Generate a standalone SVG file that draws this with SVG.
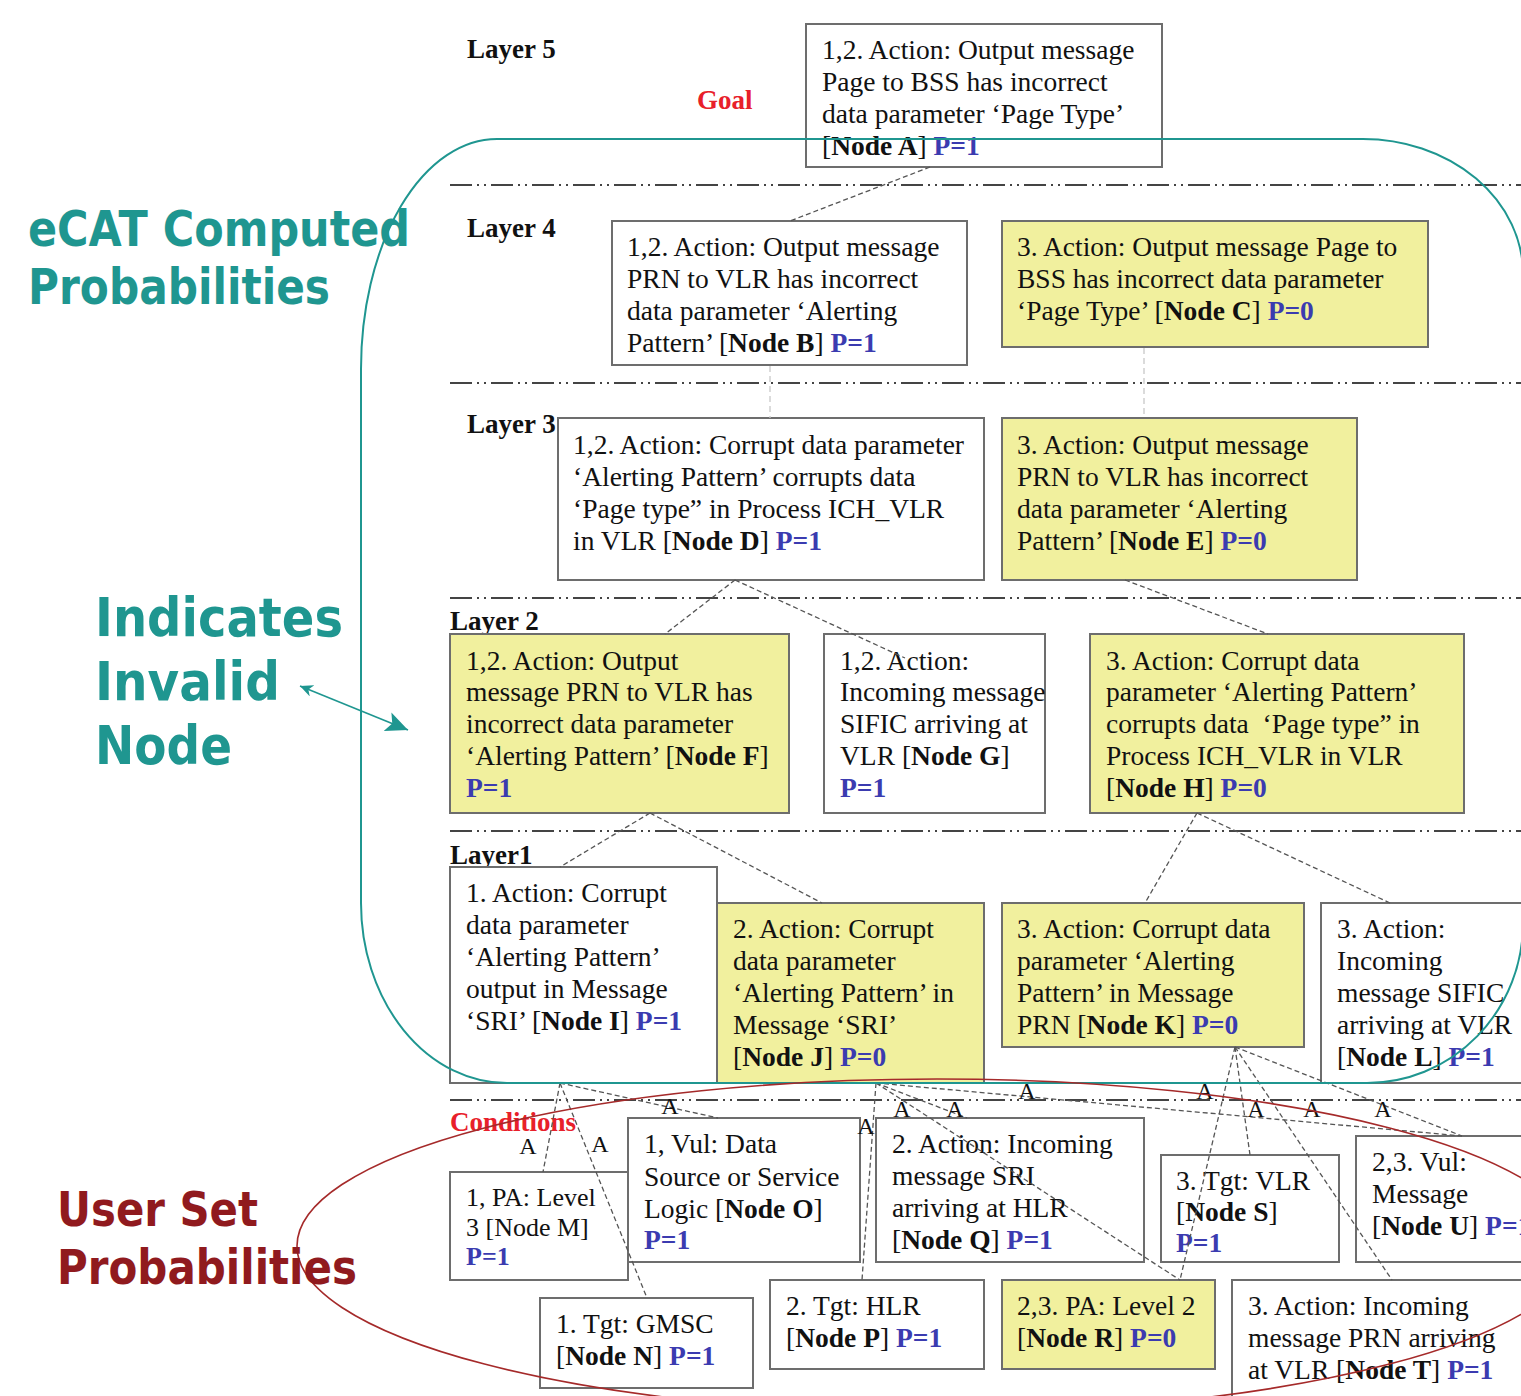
<svg xmlns="http://www.w3.org/2000/svg" width="1521" height="1396" viewBox="0 0 1521 1396">
<style>
.n{fill:#ffffff;stroke:#6d6d6d;stroke-width:2}
.y{fill:#f1f09e;stroke:#6d6d6d;stroke-width:2}
.t{font-family:"Liberation Serif","Times New Roman",serif;font-size:27.5px;fill:#111}
.b{font-weight:bold}
.p{font-weight:bold;fill:#3b3bb0}
.lay{font-family:"Liberation Serif","Times New Roman",serif;font-size:27px;font-weight:bold;fill:#111}
.red{font-family:"Liberation Serif","Times New Roman",serif;font-size:27px;font-weight:bold;fill:#e8202a}
.al{font-family:"Liberation Serif","Times New Roman",serif;font-size:24px;fill:#111;text-anchor:middle}
.conn{stroke:#555;stroke-width:1.3;stroke-dasharray:5 3;fill:none}
.light{stroke:#c8c8c8;stroke-width:1.3;stroke-dasharray:6 4;fill:none}
.sep{stroke:#444;stroke-width:2;stroke-dasharray:22 5 2 5 2 5;fill:none}
.big{font-family:"DejaVu Sans",Verdana,sans-serif;font-weight:bold}
</style>
<defs>
<marker id="tEnd" markerUnits="userSpaceOnUse" markerWidth="24" markerHeight="20" refX="22" refY="10" orient="auto"><path d="M0,0 L22,10 L0,20 L5,10 z" fill="#1f9690"/></marker>
<marker id="tStart" markerUnits="userSpaceOnUse" markerWidth="14" markerHeight="12" refX="13" refY="6" orient="auto-start-reverse"><path d="M0,0 L13,6 L0,12 L4,6 z" fill="#1f9690"/></marker>
</defs>

<g id="separators">
<line class="sep" x1="450" y1="185" x2="1521" y2="185"/>
<line class="sep" x1="450" y1="383" x2="1521" y2="383"/>
<line class="sep" x1="450" y1="598" x2="1521" y2="598"/>
<line class="sep" x1="450" y1="831" x2="1521" y2="831"/>
<line class="sep" x1="450" y1="1100" x2="1521" y2="1100"/>
</g>

<g id="labels">
<text class="lay" x="467" y="58">Layer 5</text>
<text class="red" x="697" y="109">Goal</text>
<text class="lay" x="467" y="237">Layer 4</text>
<text class="lay" x="467" y="433">Layer 3</text>
<text class="lay" x="450" y="630">Layer 2</text>
<text class="lay" x="450" y="864">Layer1</text>
<text class="red" x="450" y="1131">Conditions</text>
</g>

<g id="nodeA"><rect class="n" x="806" y="24" width="356" height="143"/>
<text class="t" x="822" y="59">1,2. Action: Output message</text>
<text class="t" x="822" y="91">Page to BSS has incorrect</text>
<text class="t" x="822" y="123">data parameter ‘Page Type’</text>
<text class="t" x="822" y="155">[<tspan class="b">Node A</tspan>] <tspan class="p">P=1</tspan></text></g>

<g id="nodeB"><rect class="n" x="612" y="221" width="355" height="144"/>
<text class="t" x="627" y="256">1,2. Action: Output message</text>
<text class="t" x="627" y="288">PRN to VLR has incorrect</text>
<text class="t" x="627" y="320">data parameter ‘Alerting</text>
<text class="t" x="627" y="352">Pattern’ [<tspan class="b">Node B</tspan>] <tspan class="p">P=1</tspan></text></g>

<g id="nodeC"><rect class="y" x="1002" y="221" width="426" height="126"/>
<text class="t" x="1017" y="256">3. Action: Output message Page to</text>
<text class="t" x="1017" y="288">BSS has incorrect data parameter</text>
<text class="t" x="1017" y="320">‘Page Type’ [<tspan class="b">Node C</tspan>] <tspan class="p">P=0</tspan></text></g>

<g id="nodeD"><rect class="n" x="558" y="418" width="426" height="162"/>
<text class="t" x="573" y="454">1,2. Action: Corrupt data parameter</text>
<text class="t" x="573" y="486">‘Alerting Pattern’ corrupts data</text>
<text class="t" x="573" y="518">‘Page type” in Process ICH_VLR</text>
<text class="t" x="573" y="550">in VLR [<tspan class="b">Node D</tspan>] <tspan class="p">P=1</tspan></text></g>

<g id="nodeE"><rect class="y" x="1002" y="418" width="355" height="162"/>
<text class="t" x="1017" y="454">3. Action: Output message</text>
<text class="t" x="1017" y="486">PRN to VLR has incorrect</text>
<text class="t" x="1017" y="518">data parameter ‘Alerting</text>
<text class="t" x="1017" y="550">Pattern’ [<tspan class="b">Node E</tspan>] <tspan class="p">P=0</tspan></text></g>

<g id="nodeF"><rect class="y" x="450" y="634" width="339" height="179"/>
<text class="t" x="466" y="670">1,2. Action: Output</text>
<text class="t" x="466" y="701">message PRN to VLR has</text>
<text class="t" x="466" y="733">incorrect data parameter</text>
<text class="t" x="466" y="765">‘Alerting Pattern’ [<tspan class="b">Node F</tspan>]</text>
<text class="t" x="466" y="797"><tspan class="p">P=1</tspan></text></g>

<g id="nodeG"><rect class="n" x="824" y="634" width="221" height="179"/>
<text class="t" x="840" y="670">1,2. Action:</text>
<text class="t" x="840" y="701">Incoming message</text>
<text class="t" x="840" y="733">SIFIC arriving at</text>
<text class="t" x="840" y="765">VLR [<tspan class="b">Node G</tspan>]</text>
<text class="t" x="840" y="797"><tspan class="p">P=1</tspan></text></g>

<g id="nodeH"><rect class="y" x="1090" y="634" width="374" height="179"/>
<text class="t" x="1106" y="670">3. Action: Corrupt data</text>
<text class="t" x="1106" y="701">parameter ‘Alerting Pattern’</text>
<text class="t" x="1106" y="733" xml:space="preserve">corrupts data  ‘Page type” in</text>
<text class="t" x="1106" y="765">Process ICH_VLR in VLR</text>
<text class="t" x="1106" y="797">[<tspan class="b">Node H</tspan>] <tspan class="p">P=0</tspan></text></g>

<g id="nodeI"><rect class="n" x="450" y="867" width="267" height="216"/>
<text class="t" x="466" y="902">1. Action: Corrupt</text>
<text class="t" x="466" y="934">data parameter</text>
<text class="t" x="466" y="966">‘Alerting Pattern’</text>
<text class="t" x="466" y="998">output in Message</text>
<text class="t" x="466" y="1030">‘SRI’ [<tspan class="b">Node I</tspan>] <tspan class="p">P=1</tspan></text></g>

<g id="nodeJ"><rect class="y" x="717" y="903" width="267" height="180"/>
<text class="t" x="733" y="938">2. Action: Corrupt</text>
<text class="t" x="733" y="970">data parameter</text>
<text class="t" x="733" y="1002">‘Alerting Pattern’ in</text>
<text class="t" x="733" y="1034">Message ‘SRI’</text>
<text class="t" x="733" y="1066">[<tspan class="b">Node J</tspan>] <tspan class="p">P=0</tspan></text></g>

<g id="nodeK"><rect class="y" x="1002" y="903" width="302" height="144"/>
<text class="t" x="1017" y="938">3. Action: Corrupt data</text>
<text class="t" x="1017" y="970">parameter ‘Alerting</text>
<text class="t" x="1017" y="1002">Pattern’ in Message</text>
<text class="t" x="1017" y="1034">PRN [<tspan class="b">Node K</tspan>] <tspan class="p">P=0</tspan></text></g>

<g id="nodeL"><rect class="n" x="1321" y="903" width="220" height="180"/>
<text class="t" x="1337" y="938">3. Action:</text>
<text class="t" x="1337" y="970">Incoming</text>
<text class="t" x="1337" y="1002">message SIFIC</text>
<text class="t" x="1337" y="1034">arriving at VLR</text>
<text class="t" x="1337" y="1066">[<tspan class="b">Node L</tspan>] <tspan class="p">P=1</tspan></text></g>

<g id="nodeM"><rect class="n" x="450" y="1172" width="178" height="108"/>
<text class="t" x="466" y="1206" style="font-size:26px">1, PA: Level</text>
<text class="t" x="466" y="1236" style="font-size:26px">3 [Node M]</text>
<text class="t" x="466" y="1265" style="font-size:26px"><tspan class="p">P=1</tspan></text></g>

<g id="nodeO"><rect class="n" x="628" y="1118" width="232" height="144"/>
<text class="t" x="644" y="1153">1, Vul: Data</text>
<text class="t" x="644" y="1186">Source or Service</text>
<text class="t" x="644" y="1218">Logic [<tspan class="b">Node O</tspan>]</text>
<text class="t" x="644" y="1249"><tspan class="p">P=1</tspan></text></g>

<g id="nodeQ"><rect class="n" x="876" y="1118" width="268" height="144"/>
<text class="t" x="892" y="1153">2. Action: Incoming</text>
<text class="t" x="892" y="1185">message SRI</text>
<text class="t" x="892" y="1217">arriving at HLR</text>
<text class="t" x="892" y="1249">[<tspan class="b">Node Q</tspan>] <tspan class="p">P=1</tspan></text></g>

<g id="nodeS"><rect class="n" x="1161" y="1155" width="178" height="107"/>
<text class="t" x="1176" y="1190">3. Tgt: VLR</text>
<text class="t" x="1176" y="1221">[<tspan class="b">Node S</tspan>]</text>
<text class="t" x="1176" y="1252"><tspan class="p">P=1</tspan></text></g>

<g id="nodeU"><rect class="n" x="1356" y="1136" width="185" height="126"/>
<text class="t" x="1372" y="1171">2,3. Vul:</text>
<text class="t" x="1372" y="1203">Message</text>
<text class="t" x="1372" y="1235">[<tspan class="b">Node U</tspan>] <tspan class="p">P=1</tspan></text></g>

<g id="nodeN"><rect class="n" x="540" y="1298" width="213" height="90"/>
<text class="t" x="556" y="1333">1. Tgt: GMSC</text>
<text class="t" x="556" y="1365">[<tspan class="b">Node N</tspan>] <tspan class="p">P=1</tspan></text></g>

<g id="nodeP"><rect class="n" x="770" y="1280" width="214" height="89"/>
<text class="t" x="786" y="1315">2. Tgt: HLR</text>
<text class="t" x="786" y="1347">[<tspan class="b">Node P</tspan>] <tspan class="p">P=1</tspan></text></g>

<g id="nodeR"><rect class="y" x="1002" y="1280" width="213" height="89"/>
<text class="t" x="1017" y="1315">2,3. PA: Level 2</text>
<text class="t" x="1017" y="1347">[<tspan class="b">Node R</tspan>] <tspan class="p">P=0</tspan></text></g>

<g id="nodeT"><rect class="n" x="1232" y="1280" width="310" height="130"/>
<text class="t" x="1248" y="1315">3. Action: Incoming</text>
<text class="t" x="1248" y="1347">message PRN arriving</text>
<text class="t" x="1248" y="1379">at VLR [<tspan class="b">Node T</tspan>] <tspan class="p">P=1</tspan></text></g>

<g id="connectors">
<line class="conn" x1="930" y1="167" x2="790" y2="221"/>
<line class="light" x1="770" y1="366" x2="770" y2="418"/>
<line class="light" x1="1144" y1="348" x2="1144" y2="418"/>
<line class="conn" x1="735" y1="580" x2="665" y2="634"/>
<line class="conn" x1="735" y1="580" x2="905" y2="658"/>
<line class="conn" x1="1125" y1="580" x2="1268" y2="634"/>
<line class="conn" x1="650" y1="813" x2="560" y2="867"/>
<line class="conn" x1="650" y1="813" x2="822" y2="903"/>
<line class="conn" x1="1197" y1="813" x2="1145" y2="903"/>
<line class="conn" x1="1197" y1="813" x2="1390" y2="903"/>
<line class="conn" x1="560" y1="1083" x2="543" y2="1172"/>
<line class="conn" x1="560" y1="1083" x2="647" y2="1298"/>
<line class="conn" x1="560" y1="1083" x2="718" y2="1118"/>
<line class="conn" x1="876" y1="1083" x2="862" y2="1280"/>
<line class="conn" x1="876" y1="1083" x2="1180" y2="1280"/>
<line class="conn" x1="876" y1="1083" x2="967" y2="1118"/>
<line class="conn" x1="876" y1="1083" x2="1462" y2="1136"/>
<line class="conn" x1="1235" y1="1047" x2="1180" y2="1280"/>
<line class="conn" x1="1235" y1="1047" x2="1250" y2="1155"/>
<line class="conn" x1="1235" y1="1047" x2="1392" y2="1280"/>
<line class="conn" x1="1235" y1="1047" x2="1462" y2="1136"/>
<text class="al" x="528" y="1154">A</text>
<text class="al" x="600" y="1152">A</text>
<text class="al" x="670" y="1114">A</text>
<text class="al" x="866" y="1134">A</text>
<text class="al" x="902" y="1117">A</text>
<text class="al" x="955" y="1117">A</text>
<text class="al" x="1027" y="1099">A</text>
<text class="al" x="1205" y="1099">A</text>
<text class="al" x="1256" y="1117">A</text>
<text class="al" x="1312" y="1117">A</text>
<text class="al" x="1383" y="1117">A</text>
</g>

<g id="annotations">
<path d="M 497,139 H 1363 A 160,135 0 0 1 1523,274 V 923 A 156,160 0 0 1 1367,1083 H 507 A 146,180 0 0 1 361,903 V 369 A 136,230 0 0 1 497,139 Z" fill="none" stroke="#1f9690" stroke-width="2"/>
<ellipse cx="937" cy="1246" rx="640" ry="167" fill="none" stroke="#a52a2a" stroke-width="1.6"/>
<line x1="300" y1="686" x2="408" y2="730" stroke="#1f9690" stroke-width="1.6" marker-start="url(#tStart)" marker-end="url(#tEnd)"/>
<text class="big" x="28" y="246" font-size="50" fill="#1f9690" textLength="382" lengthAdjust="spacingAndGlyphs">eCAT Computed</text>
<text class="big" x="28" y="304" font-size="50" fill="#1f9690" textLength="302" lengthAdjust="spacingAndGlyphs">Probabilities</text>
<text class="big" x="95" y="636" font-size="54" fill="#1f9690" textLength="248" lengthAdjust="spacingAndGlyphs">Indicates</text>
<text class="big" x="95" y="700" font-size="54" fill="#1f9690" textLength="185" lengthAdjust="spacingAndGlyphs">Invalid</text>
<text class="big" x="95" y="764" font-size="54" fill="#1f9690" textLength="137" lengthAdjust="spacingAndGlyphs">Node</text>
<text class="big" x="57" y="1226" font-size="48" fill="#901a1e" textLength="201" lengthAdjust="spacingAndGlyphs">User Set</text>
<text class="big" x="57" y="1284" font-size="48" fill="#901a1e" textLength="300" lengthAdjust="spacingAndGlyphs">Probabilities</text>
</g>
</svg>
